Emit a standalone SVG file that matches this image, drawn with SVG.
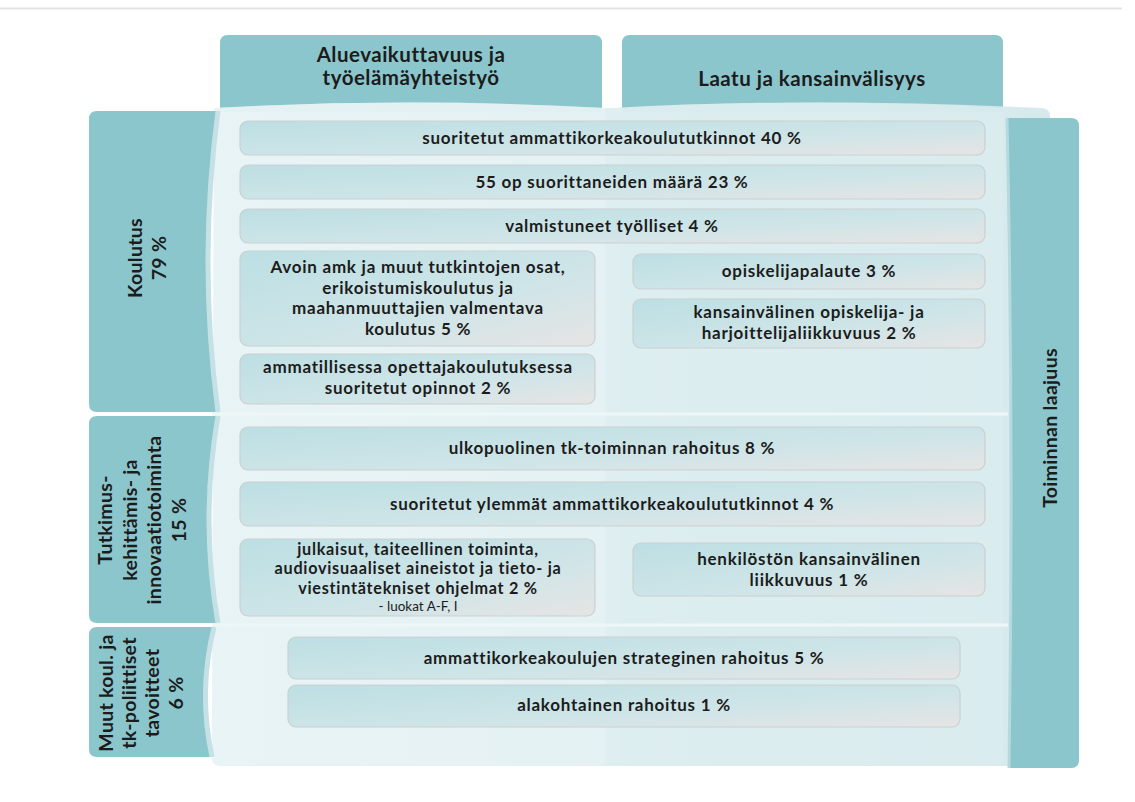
<svg xmlns="http://www.w3.org/2000/svg" width="1135" height="802" viewBox="0 0 1135 802">
<defs>
<linearGradient id="bx" x1="0" y1="0" x2="1" y2="1">
<stop offset="0" stop-color="#bcdfe3"/>
<stop offset="0.6" stop-color="#cfe5e8"/>
<stop offset="1" stop-color="#e6e4e4"/>
</linearGradient>
<linearGradient id="pan" x1="0" y1="0" x2="1" y2="0">
<stop offset="0" stop-color="#e6f2f4"/>
<stop offset="1" stop-color="#d4e8eb"/>
</linearGradient>
<style>
.hd{fill:#8bc6cc}
.bx{fill:url(#bx);stroke:#cbd0d1;stroke-width:1.2}
.t{font-family:Lato,"Open Sans",sans-serif;font-weight:700;font-size:17px;letter-spacing:0.75px;fill:#1c1c1c;text-anchor:middle}
.tm{font-size:16.2px}
.h{font-family:Lato,"Open Sans",sans-serif;font-weight:700;font-size:20.5px;letter-spacing:0.5px;fill:#1c1c1c;text-anchor:middle}
.r{font-family:Lato,"Open Sans",sans-serif;font-weight:700;font-size:19.5px;letter-spacing:0.3px;fill:#1c1c1c;text-anchor:middle}
.s{font-family:Lato,"Open Sans",sans-serif;font-weight:400;font-size:13.5px;fill:#1c1c1c;text-anchor:middle}
</style>
</defs>
<rect width="1135" height="802" fill="#fff"/>
<line x1="0" y1="8.5" x2="1122" y2="8.5" stroke="#e4e4e4" stroke-width="2"/>

<!-- column headers -->
<g id="col-alue">
<path class="hd" d="M220 43 Q220 35 228 35 L594 35 Q602 35 602 43 L602 112 L220 112 Z"/>
<text class="h" x="411" y="62">Aluevaikuttavuus ja</text>
<text class="h" x="411" y="85">työelämäyhteistyö</text>
</g>
<g id="col-laatu">
<path class="hd" d="M622 43 Q622 35 630 35 L995 35 Q1003 35 1003 43 L1003 112 L622 112 Z"/>
<text class="h" x="812" y="86">Laatu ja kansainvälisyys</text>
</g>

<!-- light panel -->
<g id="panel">
<path d="M214 108 Q410 97 605 108 L612 108 Q810 97 1040 108 Q1050 108 1050 116 L1048 758 Q1048 766 1040 766 L222 766 Q212 766 212 758 Z" fill="url(#pan)" opacity="0.95"/>
<path d="M214 108 Q410 97 605 108 L605 758 Q605 766 597 766 L222 766 Q212 766 212 758 Z" fill="#e9f4f5" opacity="0.55"/>
<path d="M622 108 Q810 97 1003 108 L1003 758 Q1003 766 995 766 L630 766 Q622 766 622 758 Z" fill="#dbedef" opacity="0.5"/>
<line x1="212" y1="414" x2="1008" y2="414" stroke="#eef7f8" stroke-width="3"/>
<line x1="212" y1="625" x2="1008" y2="625" stroke="#eef7f8" stroke-width="3"/>
</g>

<!-- right header -->
<g id="toiminnan-laajuus">
<path class="hd" d="M1007 118 L1071 118 Q1079 118 1079 126 L1079 760 Q1079 768 1071 768 L1009 768 Q1014 440 1007 118 Z"/>
<path d="M1007 118 Q1014 440 1009 768" fill="none" stroke="#b4dade" stroke-width="3"/>
<text class="r" transform="translate(1057 428) rotate(-90)">Toiminnan laajuus</text>
</g>

<!-- row headers -->
<g id="row-koulutus">
<path class="hd" d="M97 111 L218 111 Q198 262 218 412 L97 412 Q89 412 89 404 L89 119 Q89 111 97 111 Z"/>
<path d="M218 111 Q198 262 218 412" fill="none" stroke="#c6e1e5" stroke-width="5"/>
<text class="r" transform="translate(142 258) rotate(-90)">Koulutus</text>
<text class="r" transform="translate(166 258) rotate(-90)">79 %</text>
</g>
<g id="row-tki">
<path class="hd" d="M97 416 L218 416 Q200 520 218 623 L97 623 Q89 623 89 615 L89 424 Q89 416 97 416 Z"/>
<path d="M218 416 Q200 520 218 623" fill="none" stroke="#c6e1e5" stroke-width="5"/>
<text class="r" transform="translate(112 520) rotate(-90)">Tutkimus-</text>
<text class="r" transform="translate(137 520) rotate(-90)">kehittämis- ja</text>
<text class="r" transform="translate(161 520) rotate(-90)">innovaatiotoiminta</text>
<text class="r" transform="translate(186 520) rotate(-90)">15 %</text>
</g>
<g id="row-muut">
<path class="hd" d="M97 627 L214 627 Q198 692 212 757 L97 757 Q89 757 89 749 L89 635 Q89 627 97 627 Z"/>
<path d="M214 627 Q198 692 212 757" fill="none" stroke="#c6e1e5" stroke-width="5"/>
<text class="r" transform="translate(113 693) rotate(-90)">Muut koul. ja</text>
<text class="r" transform="translate(136 693) rotate(-90)">tk-poliittiset</text>
<text class="r" transform="translate(159 693) rotate(-90)">tavoitteet</text>
<text class="r" transform="translate(183 693) rotate(-90)">6 %</text>
</g>

<!-- indicator boxes -->
<g id="b1"><rect class="bx" x="240" y="121" width="745" height="34" rx="8"/><text class="t" x="612" y="144">suoritetut ammattikorkeakoulututkinnot 40 %</text></g>
<g id="b2"><rect class="bx" x="240" y="165" width="745" height="34" rx="8"/><text class="t" x="612" y="188">55 op suorittaneiden määrä 23 %</text></g>
<g id="b3"><rect class="bx" x="240" y="209" width="745" height="34" rx="8"/><text class="t" x="612" y="232">valmistuneet työlliset 4 %</text></g>
<g id="b4"><rect class="bx" x="240" y="251" width="355" height="95" rx="8"/>
<text class="t" x="418" y="273">Avoin amk ja muut tutkintojen osat,</text>
<text class="t" x="418" y="293.5">erikoistumiskoulutus ja</text>
<text class="t" x="418" y="314">maahanmuuttajien valmentava</text>
<text class="t" x="418" y="334.5">koulutus 5 %</text></g>
<g id="b5"><rect class="bx" x="240" y="354" width="355" height="50" rx="8"/>
<text class="t" x="418" y="373">ammatillisessa opettajakoulutuksessa</text>
<text class="t" x="418" y="394">suoritetut opinnot 2 %</text></g>
<g id="b6"><rect class="bx" x="633" y="254" width="352" height="35" rx="8"/><text class="t" x="809" y="277">opiskelijapalaute 3 %</text></g>
<g id="b7"><rect class="bx" x="633" y="299" width="352" height="49" rx="8"/>
<text class="t" x="809" y="318">kansainvälinen opiskelija- ja</text>
<text class="t" x="809" y="339">harjoittelijaliikkuvuus 2 %</text></g>
<g id="b8"><rect class="bx" x="240" y="427" width="745" height="43" rx="8"/><text class="t" x="612" y="454">ulkopuolinen tk-toiminnan rahoitus 8 %</text></g>
<g id="b9"><rect class="bx" x="240" y="482" width="745" height="44" rx="8"/><text class="t" x="612" y="510">suoritetut ylemmät ammattikorkeakoulututkinnot 4 %</text></g>
<g id="b10"><rect class="bx" x="240" y="539" width="355" height="77" rx="8"/>
<text class="t tm" x="418" y="554.5">julkaisut, taiteellinen toiminta,</text>
<text class="t tm" x="418" y="574">audiovisuaaliset aineistot ja tieto- ja</text>
<text class="t tm" x="418" y="593.5">viestintätekniset ohjelmat 2 %</text>
<text class="s" x="418" y="611">- luokat A-F, I</text></g>
<g id="b11"><rect class="bx" x="633" y="543" width="352" height="53" rx="8"/>
<text class="t" x="809" y="565">henkilöstön kansainvälinen</text>
<text class="t" x="809" y="586">liikkuvuus 1 %</text></g>
<g id="b12"><rect class="bx" x="288" y="637" width="672" height="42" rx="8"/><text class="t" x="624" y="664">ammattikorkeakoulujen strateginen rahoitus 5 %</text></g>
<g id="b13"><rect class="bx" x="288" y="685" width="672" height="42" rx="8"/><text class="t" x="624" y="711">alakohtainen rahoitus 1 %</text></g>
<g id="connectors"></g>
</svg>
